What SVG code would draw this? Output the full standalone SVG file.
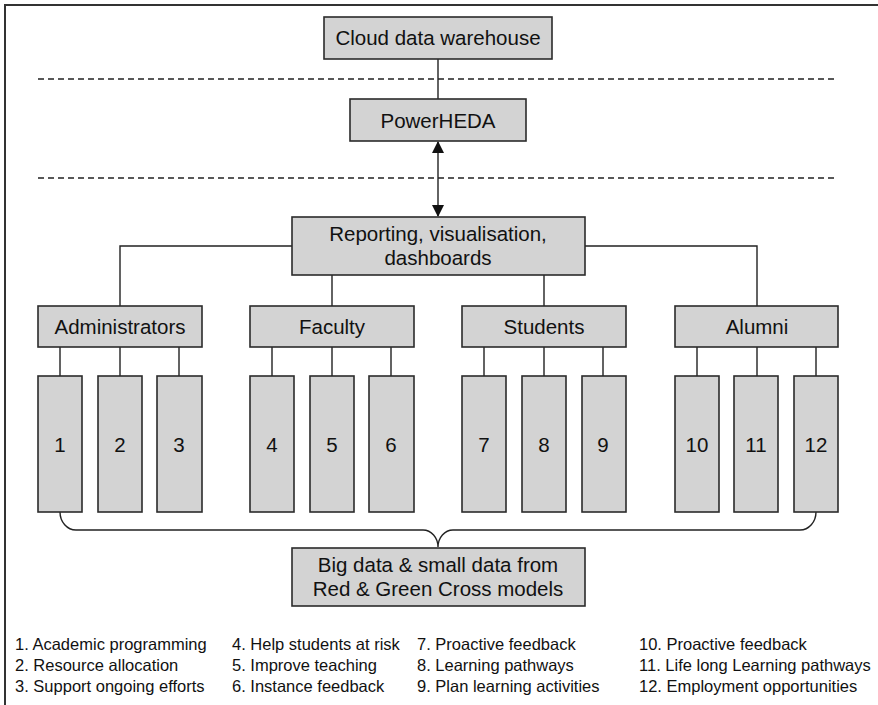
<svg xmlns="http://www.w3.org/2000/svg" width="878" height="705" viewBox="0 0 878 705">
  <style>
    .box { fill: #d3d3d3; stroke: #2b2b2b; stroke-width: 1.6; }
    .lbl { font-family: "Liberation Sans", Arial, sans-serif; font-size: 20.5px; fill: #111; text-anchor: middle; }
    .leg { font-family: "Liberation Sans", Arial, sans-serif; font-size: 16.5px; fill: #111; }
    .wire { fill: none; stroke: #222; stroke-width: 1.4; }
    .dash { fill: none; stroke: #222; stroke-width: 1.4; stroke-dasharray: 6 4; }
    .frame { fill: none; stroke: #333; stroke-width: 2; }
  </style>
  <defs>
    <marker id="head" markerWidth="12" markerHeight="12" refX="11" refY="6" orient="auto-start-reverse" markerUnits="userSpaceOnUse">
      <path d="M0,0 L12,6 L0,12 Z" fill="#111"/>
    </marker>
  </defs>

  <rect width="878" height="705" fill="#fff"/>

  <!-- outer frame (top and left edges) -->
  <path class="frame" d="M5,705 V5 H878"/>

  <!-- tier separators -->
  <line class="dash" x1="38" y1="79" x2="838" y2="79"/>
  <line class="dash" x1="38" y1="178" x2="838" y2="178"/>

  <g id="connectors">
    <line class="wire" x1="438" y1="59" x2="438" y2="99"/>
    <line class="wire" x1="438" y1="142" x2="438" y2="216" marker-start="url(#head)" marker-end="url(#head)"/>
    <path class="wire" d="M292,246 H120 V306"/>
    <path class="wire" d="M585,246 H757 V306"/>
    <line class="wire" x1="332" y1="275" x2="332" y2="306"/>
    <line class="wire" x1="544" y1="275" x2="544" y2="306"/>
    <!-- group to item links -->
    <path class="wire" d="M60,347 V376 M120,347 V376 M179,347 V376"/>
    <path class="wire" d="M272,347 V376 M332,347 V376 M391,347 V376"/>
    <path class="wire" d="M484,347 V376 M544,347 V376 M603,347 V376"/>
    <path class="wire" d="M697,347 V376 M757,347 V376 M816,347 V376"/>
    <!-- brace gathering all items -->
    <path class="wire" d="M60,512 A16,18 0 0 0 76,530 H423 A15,17 0 0 1 438,547 A15,17 0 0 1 453,530 H800 A16,18 0 0 0 816,512"/>
  </g>

  <g id="cloud">
    <rect class="box" x="324" y="17" width="228" height="42"/>
    <text class="lbl" x="438" y="45">Cloud data warehouse</text>
  </g>

  <g id="powerheda">
    <rect class="box" x="350" y="99" width="176" height="42"/>
    <text class="lbl" x="438" y="128">PowerHEDA</text>
  </g>

  <g id="reporting">
    <rect class="box" x="292" y="217" width="293" height="58"/>
    <text class="lbl" x="438" y="241">Reporting, visualisation,</text>
    <text class="lbl" x="438" y="265">dashboards</text>
  </g>

  <g id="administrators">
    <rect class="box" x="38" y="306" width="164" height="41"/>
    <text class="lbl" x="120" y="334">Administrators</text>
  </g>
  <g id="faculty">
    <rect class="box" x="250" y="306" width="164" height="41"/>
    <text class="lbl" x="332" y="334">Faculty</text>
  </g>
  <g id="students">
    <rect class="box" x="462" y="306" width="164" height="41"/>
    <text class="lbl" x="544" y="334">Students</text>
  </g>
  <g id="alumni">
    <rect class="box" x="675" y="306" width="163" height="41"/>
    <text class="lbl" x="757" y="334">Alumni</text>
  </g>

  <g id="item1"><rect class="box" x="38" y="376" width="44" height="136"/><text class="lbl" x="60" y="452">1</text></g>
  <g id="item2"><rect class="box" x="98" y="376" width="44" height="136"/><text class="lbl" x="120" y="452">2</text></g>
  <g id="item3"><rect class="box" x="157" y="376" width="45" height="136"/><text class="lbl" x="179" y="452">3</text></g>
  <g id="item4"><rect class="box" x="250" y="376" width="44" height="136"/><text class="lbl" x="272" y="452">4</text></g>
  <g id="item5"><rect class="box" x="310" y="376" width="44" height="136"/><text class="lbl" x="332" y="452">5</text></g>
  <g id="item6"><rect class="box" x="369" y="376" width="45" height="136"/><text class="lbl" x="391" y="452">6</text></g>
  <g id="item7"><rect class="box" x="462" y="376" width="44" height="136"/><text class="lbl" x="484" y="452">7</text></g>
  <g id="item8"><rect class="box" x="522" y="376" width="44" height="136"/><text class="lbl" x="544" y="452">8</text></g>
  <g id="item9"><rect class="box" x="582" y="376" width="44" height="136"/><text class="lbl" x="603" y="452">9</text></g>
  <g id="item10"><rect class="box" x="675" y="376" width="44" height="136"/><text class="lbl" x="697" y="452">10</text></g>
  <g id="item11"><rect class="box" x="734" y="376" width="44" height="136"/><text class="lbl" x="756" y="452">11</text></g>
  <g id="item12"><rect class="box" x="794" y="376" width="44" height="136"/><text class="lbl" x="816" y="452">12</text></g>

  <g id="bigdata">
    <rect class="box" x="292" y="548" width="293" height="58"/>
    <text class="lbl" x="438" y="572">Big data &amp; small data from</text>
    <text class="lbl" x="438" y="596">Red &amp; Green Cross models</text>
  </g>

  <g id="legend">
    <text class="leg" x="15" y="650">1. Academic programming</text>
    <text class="leg" x="15" y="671">2. Resource allocation</text>
    <text class="leg" x="15" y="692">3. Support ongoing efforts</text>
    <text class="leg" x="232" y="650">4. Help students at risk</text>
    <text class="leg" x="232" y="671">5. Improve teaching</text>
    <text class="leg" x="232" y="692">6. Instance feedback</text>
    <text class="leg" x="417" y="650">7. Proactive feedback</text>
    <text class="leg" x="417" y="671">8. Learning pathways</text>
    <text class="leg" x="417" y="692">9. Plan learning activities</text>
    <text class="leg" x="639" y="650">10. Proactive feedback</text>
    <text class="leg" x="639" y="671">11. Life long Learning pathways</text>
    <text class="leg" x="639" y="692">12. Employment opportunities</text>
  </g>
</svg>
